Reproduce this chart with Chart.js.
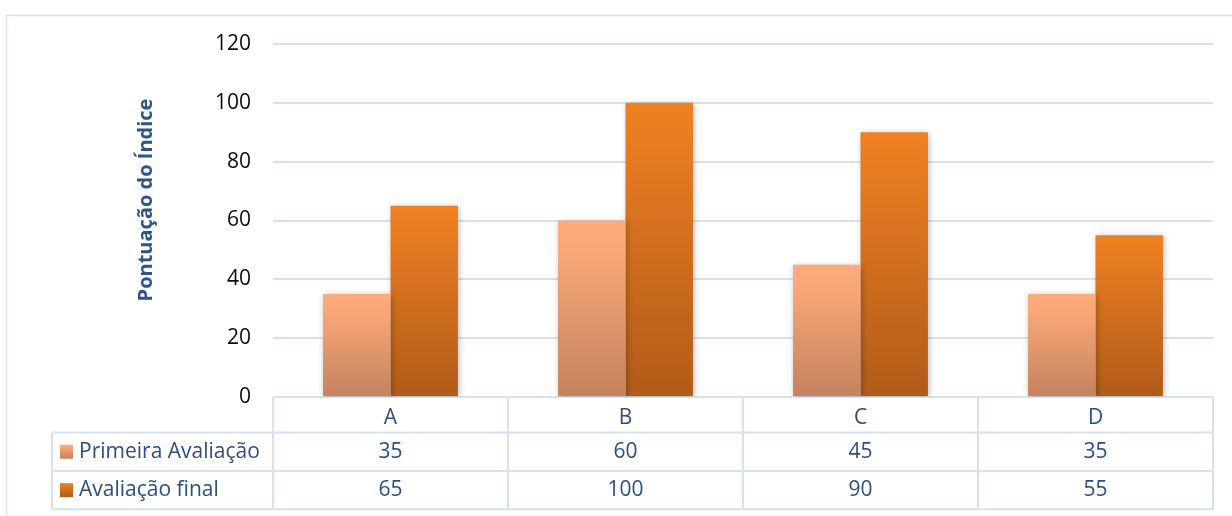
<!DOCTYPE html>
<html>
<head>
<meta charset="utf-8">
<script src="https://cdn.jsdelivr.net/npm/chart.js@4.4.1/dist/chart.umd.min.js"></script>
<style>
  html, body { margin: 0; padding: 0; background: #ffffff; }
  #wrap { width: 1232px; height: 516px; position: relative; }
</style>
</head>
<body>
<div id="wrap"><canvas id="c" width="1232" height="516"></canvas></div>
<script>
// ---- data ----
const categories = ['A', 'B', 'C', 'D'];
const seriesNames = ['Primeira Avaliação', 'Avaliação final'];
const primeiraAvaliacao = [35, 60, 45, 35];
const avaliacaoFinal = [65, 100, 90, 55];
const yTicks = [0, 20, 40, 60, 80, 100, 120];
const yTitle = 'Pontuação do Índice';

// ---- styles ----
const FONT = "'Open Sans', 'Liberation Sans', sans-serif";
const BLUE_TEXT = '#2b4f82';
const GRID = '#d6e1f2';
const gradStops = [
  [[0, '#fdab7c'], [0.18, '#f9a777'], [1, '#c4825e']],
  [[0, '#f08122'], [1, '#b15b19']]
];
const solid = ['#f2a070', '#d9711f'];

function barGradient(dsIndex) {
  return function (ctx) {
    const chart = ctx.chart;
    if (!chart.chartArea || ctx.type !== 'data' || !ctx.parsed) return solid[dsIndex];
    const ys = chart.scales.y;
    const top = ys.getPixelForValue(ctx.parsed.y);
    const bottom = ys.getPixelForValue(0);
    const g = chart.ctx.createLinearGradient(0, top, 0, bottom);
    gradStops[dsIndex].forEach(s => g.addColorStop(s[0], s[1]));
    return g;
  };
}

const tablePlugin = {
  id: 'dataTable',
  beforeDraw(chart) {
    const ctx = chart.ctx;
    ctx.save();
    ctx.strokeStyle = '#d9e3f3';
    ctx.lineWidth = 1.5;
    ctx.strokeRect(6.5, 15.5, 1400, 700);
    ctx.restore();
  },
  beforeDatasetsDraw(chart) {
    const ctx = chart.ctx;
    ctx.save();
    ctx.shadowColor = 'rgba(0,0,0,0.28)';
    ctx.shadowBlur = 6;
    ctx.shadowOffsetX = 1;
    ctx.shadowOffsetY = 1;
  },
  afterDatasetsDraw(chart) {
    chart.ctx.restore();
  },
  afterDraw(chart) {
    const ctx = chart.ctx;
    const xs = chart.scales.x;
    const area = chart.chartArea;
    const half = (xs.getPixelForValue(1) - xs.getPixelForValue(0)) / 2;
    const leftX = 52;
    const rows = [area.bottom, area.bottom + 35.5, area.bottom + 74, area.bottom + 112.3];
    const rightX = xs.getPixelForValue(categories.length - 1) + half;
    const firstX = xs.getPixelForValue(0) - half;

    ctx.save();
    ctx.strokeStyle = GRID;
    ctx.lineWidth = 2;
    ctx.beginPath();
    for (let r = 1; r < rows.length; r++) {
      ctx.moveTo(leftX, rows[r]);
      ctx.lineTo(rightX, rows[r]);
    }
    ctx.moveTo(leftX, rows[1]);
    ctx.lineTo(leftX, rows[3]);
    for (let i = 0; i <= categories.length; i++) {
      const bx = firstX + i * 2 * half;
      ctx.moveTo(bx, rows[0]);
      ctx.lineTo(bx, rows[3]);
    }
    ctx.stroke();

    const series = [primeiraAvaliacao, avaliacaoFinal];
    ctx.font = '21px ' + FONT;
    ctx.fillStyle = BLUE_TEXT;
    ctx.textBaseline = 'middle';
    series.forEach((vals, s) => {
      const cy = (rows[s + 1] + rows[s + 2]) / 2;
      const g = ctx.createLinearGradient(0, cy - 7, 0, cy + 7);
      gradStops[s].forEach(st => g.addColorStop(st[0], st[1]));
      ctx.fillStyle = g;
      ctx.fillRect(60, cy - 7, 13, 14);
      ctx.fillStyle = BLUE_TEXT;
      ctx.textAlign = 'left';
      ctx.fillText(seriesNames[s], 79, cy);
      ctx.textAlign = 'center';
      vals.forEach((v, i) => {
        ctx.fillText(String(v), xs.getPixelForValue(i), cy);
      });
    });
    ctx.restore();

    ctx.save();
    ctx.translate(146, 200);
    ctx.rotate(-Math.PI / 2);
    ctx.font = 'bold 20px ' + FONT;
    ctx.fillStyle = '#2c5490';
    ctx.textAlign = 'center';
    ctx.textBaseline = 'middle';
    ctx.fillText(yTitle, 0, 0);
    ctx.restore();
  }
};

new Chart(document.getElementById('c'), {
  type: 'bar',
  data: {
    labels: categories,
    datasets: [
      { label: seriesNames[0], data: primeiraAvaliacao, backgroundColor: barGradient(0), borderWidth: 0 },
      { label: seriesNames[1], data: avaliacaoFinal, backgroundColor: barGradient(1), borderWidth: 0 }
    ]
  },
  options: {
    responsive: false,
    animation: false,
    devicePixelRatio: 1,
    layout: { padding: { left: 0, right: 19, top: 44, bottom: 0 } },
    datasets: { bar: { categoryPercentage: 0.574, barPercentage: 1 } },
    plugins: { legend: { display: false }, tooltip: { enabled: false } },
    scales: {
      x: {
        grid: { display: false },
        border: { display: false },
        ticks: { font: { family: FONT, size: 21 }, color: BLUE_TEXT, padding: 0, maxRotation: 0 },
        afterFit(s) { s.height = 119; }
      },
      y: {
        min: 0,
        max: 120,
        afterBuildTicks(s) { s.ticks = yTicks.map(v => ({ value: v })); },
        grid: { color: GRID, lineWidth: 2, drawTicks: false },
        border: { display: false },
        ticks: { font: { family: FONT, size: 21 }, color: '#0d0d0d', padding: 22 },
        afterFit(s) { s.width = 273; }
      }
    }
  },
  plugins: [tablePlugin]
});
</script>
</body>
</html>
